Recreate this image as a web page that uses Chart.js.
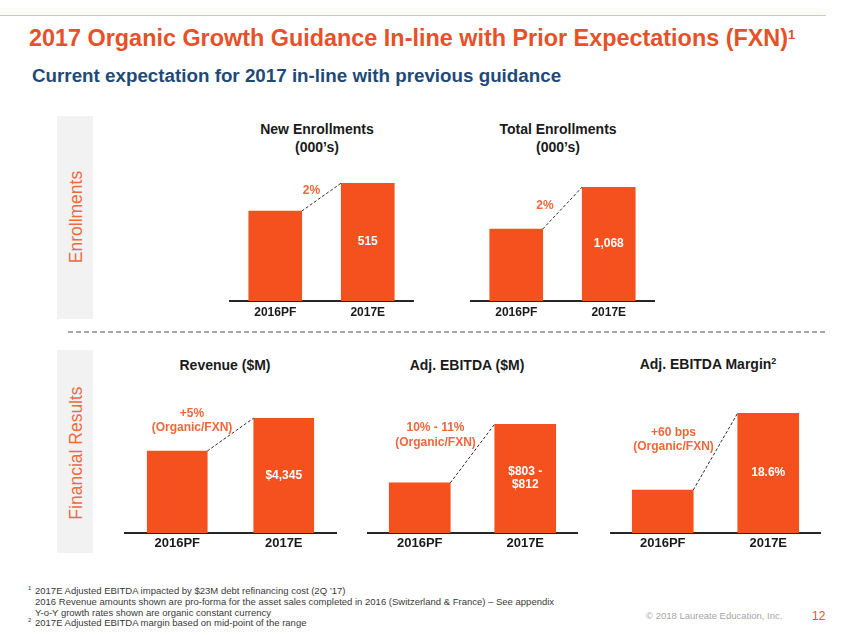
<!DOCTYPE html>
<html>
<head>
<meta charset="utf-8">
<script src="https://cdn.jsdelivr.net/npm/chart.js@4"></script>
<style>
  body{margin:0;width:847px;height:635px;position:relative;background:#fff;overflow:hidden;
       font-family:"Liberation Sans",Arial,Helvetica,sans-serif;}
  .a{position:absolute;white-space:nowrap;}
  .ct{position:absolute;transform:translateX(-50%);text-align:center;font-weight:bold;font-size:14px;line-height:18px;color:#1a1a1a;white-space:nowrap;}
  canvas{position:absolute;}
  .fn{position:absolute;left:35px;font-size:9.5px;line-height:11px;color:#3a3a3a;white-space:nowrap;}
  .fn sup{position:absolute;left:-7px;top:-2px;font-size:6px;}
</style>
</head>
<body>
<div class="a" style="left:0;top:15px;width:826px;height:1px;background:#F3B8A0;"></div>
<div class="a" style="left:29px;top:25px;font-size:23.4px;line-height:26px;font-weight:bold;color:#E5522A;">2017 Organic Growth Guidance In-line with Prior Expectations (FXN)<sup style="font-size:13px;vertical-align:top;position:relative;top:-3px;">1</sup></div>
<div class="a" style="left:32px;top:65px;font-size:18.8px;line-height:22px;font-weight:bold;color:#1F4A78;">Current expectation for 2017 in-line with previous guidance</div>

<div class="a" style="left:57px;top:116px;width:36px;height:203px;background:#F2F2F2;"></div>
<div class="a" style="left:57px;top:350px;width:36px;height:203px;background:#F2F2F2;"></div>
<div class="a" style="left:76px;top:217px;font-size:17.5px;line-height:20px;color:#F06A3C;transform:translate(-50%,-50%) rotate(-90deg);">Enrollments</div>
<div class="a" style="left:76px;top:453px;font-size:17.5px;line-height:20px;color:#F06A3C;transform:translate(-50%,-50%) rotate(-90deg);">Financial Results</div>

<div class="a" style="left:68px;top:331px;width:759px;height:2px;background:repeating-linear-gradient(to right,#A8A8A8 0 5px,transparent 5px 8px);"></div>

<div class="ct" style="left:317px;top:120px;">New Enrollments<br>(000’s)</div>
<div class="ct" style="left:558px;top:120px;">Total Enrollments<br>(000’s)</div>
<div class="ct" style="left:225px;top:356px;">Revenue ($M)</div>
<div class="ct" style="left:467px;top:356px;">Adj. EBITDA ($M)</div>
<div class="ct" style="left:708px;top:355px;">Adj. EBITDA Margin<sup style="font-size:9px;vertical-align:top;position:relative;top:-3px;">2</sup></div>

<canvas id="c1"></canvas>
<canvas id="c2"></canvas>
<canvas id="c3"></canvas>
<canvas id="c4"></canvas>
<canvas id="c5"></canvas>

<div class="fn" style="top:584.5px;"><sup>1</sup>2017E Adjusted EBITDA impacted by $23M debt refinancing cost (2Q ’17)</div>
<div class="fn" style="top:595.5px;">2016 Revenue amounts shown are pro-forma for the asset sales completed in 2016 (Switzerland &amp; France) – See appendix</div>
<div class="fn" style="top:606.5px;">Y-o-Y growth rates shown are organic constant currency</div>
<div class="fn" style="top:617px;"><sup>2</sup>2017E Adjusted EBITDA margin based on mid-point of the range</div>
<div class="a" style="left:646px;top:610px;font-size:9.5px;line-height:12px;color:#A6A6A6;">© 2018 Laureate Education, Inc.</div>
<div class="a" style="left:812px;top:609px;font-size:12px;line-height:14px;color:#E5522A;">12</div>

<script>
// ---- data ----
const categories = ['2016PF', '2017E'];
const newEnrollments = [505, 515];
const totalEnrollments = [1047, 1068];
const revenue = [4138, 4345];
const adjEbitda = [731, 807.5];
const adjEbitdaMargin = [18.0, 18.6];

const newEnrollmentsLabel = ['515'];
const totalEnrollmentsLabel = ['1,068'];
const revenueLabel = ['$4,345'];
const adjEbitdaLabel = ['$803 -', '$812'];
const adjEbitdaMarginLabel = ['18.6%'];

const newEnrollmentsGrowth = ['2%'];
const totalEnrollmentsGrowth = ['2%'];
const revenueGrowth = ['+5%', '(Organic/FXN)'];
const adjEbitdaGrowth = ['10% - 11%', '(Organic/FXN)'];
const adjEbitdaMarginGrowth = ['+60 bps', '(Organic/FXN)'];

const FONT = '"Liberation Sans", Arial, sans-serif';
const BAR = '#F5511E';
const ACCENT = '#F2673A';

function makeMarks(c) {
  return {
    id: 'marks',
    afterDatasetsDraw(chart) {
      const ctx = chart.ctx;
      const xs = chart.scales.x, ys = chart.scales.y;
      const meta = chart.getDatasetMeta(0);
      const w1 = meta.data[0].width, w2 = meta.data[1].width;
      const cx1 = xs.getPixelForValue(0), cx2 = xs.getPixelForValue(1);
      const x1 = cx1 + w1 / 2, y1 = ys.getPixelForValue(c.data[0]);
      const x2 = cx2 - w2 / 2, y2 = ys.getPixelForValue(c.data[1]);
      const yBase = ys.getPixelForValue(ys.min);
      ctx.save();
      ctx.strokeStyle = '#2b2b2b';
      ctx.lineWidth = 1;
      ctx.setLineDash([3, 2]);
      ctx.beginPath(); ctx.moveTo(x1, y1); ctx.lineTo(x2, y2); ctx.stroke();
      ctx.setLineDash([]);
      ctx.textAlign = 'center';
      ctx.textBaseline = 'middle';
      ctx.font = 'bold 12px ' + FONT;
      ctx.fillStyle = '#ffffff';
      const cy = (y2 + yBase) / 2;
      const vals = c.value;
      for (let i = 0; i < vals.length; i++) {
        ctx.fillText(vals[i], cx2, cy + (i - (vals.length - 1) / 2) * 13);
      }
      ctx.fillStyle = ACCENT;
      const mx = (x1 + x2) / 2 + c.dx, my = (y1 + y2) / 2 + c.dy;
      const g = c.growth;
      for (let i = 0; i < g.length; i++) {
        ctx.fillText(g[i], mx, my + (i - (g.length - 1) / 2) * 14.5);
      }
      ctx.restore();
    }
  };
}

function makeChart(id, c) {
  const cv = document.getElementById(id);
  const headroom = 45, axisH = 20;
  cv.width = c.width;
  cv.height = headroom + (c.base - c.areaTop) + axisH;
  cv.style.left = c.left + 'px';
  cv.style.top = (c.areaTop - headroom) + 'px';
  return new Chart(cv, {
    type: 'bar',
    data: {
      labels: categories,
      datasets: [{ data: c.data, backgroundColor: BAR, borderWidth: 0, barThickness: c.barW }]
    },
    options: {
      responsive: false,
      animation: false,
      devicePixelRatio: 1,
      layout: { padding: { top: headroom, left: 0, right: 0, bottom: 0 } },
      plugins: { legend: { display: false }, tooltip: { enabled: false } },
      scales: {
        x: {
          grid: { display: false, drawTicks: false },
          border: { display: true, color: '#262626', width: 2 },
          ticks: { font: { family: FONT, size: c.tick, weight: 'bold' }, color: '#1a1a1a',
                   padding: c.tickPad, maxRotation: 0, autoSkip: false },
          afterFit(s) { s.height = axisH; }
        },
        y: { display: false, min: c.min, max: c.max }
      }
    },
    plugins: [makeMarks(c)]
  });
}

makeChart('c1', { left: 229, width: 185, areaTop: 183, base: 301, data: newEnrollments, min: 473, max: 515,
  barW: 53, value: newEnrollmentsLabel, growth: newEnrollmentsGrowth, dx: -10, dy: -6, tick: 12, tickPad: 4 });
makeChart('c2', { left: 470, width: 185, areaTop: 187, base: 301, data: totalEnrollments, min: 1011, max: 1068,
  barW: 53, value: totalEnrollmentsLabel, growth: totalEnrollmentsGrowth, dx: -17.5, dy: -2, tick: 12, tickPad: 4 });
makeChart('c3', { left: 124, width: 213, areaTop: 418, base: 533, data: revenue, min: 3624, max: 4345,
  barW: 60, value: revenueLabel, growth: revenueGrowth, dx: -38.5, dy: -14, tick: 13, tickPad: 3 });
makeChart('c4', { left: 367, width: 211, areaTop: 424, base: 533, data: adjEbitda, min: 666, max: 807.5,
  barW: 61, value: adjEbitdaLabel, growth: adjEbitdaGrowth, dx: -37, dy: -18.5, tick: 13, tickPad: 3 });
makeChart('c5', { left: 610, width: 211, areaTop: 413, base: 533, data: adjEbitdaMargin, min: 17.665, max: 18.6,
  barW: 61, value: adjEbitdaMarginLabel, growth: adjEbitdaMarginGrowth, dx: -42, dy: -12, tick: 13, tickPad: 3 });
</script>
</body>
</html>
